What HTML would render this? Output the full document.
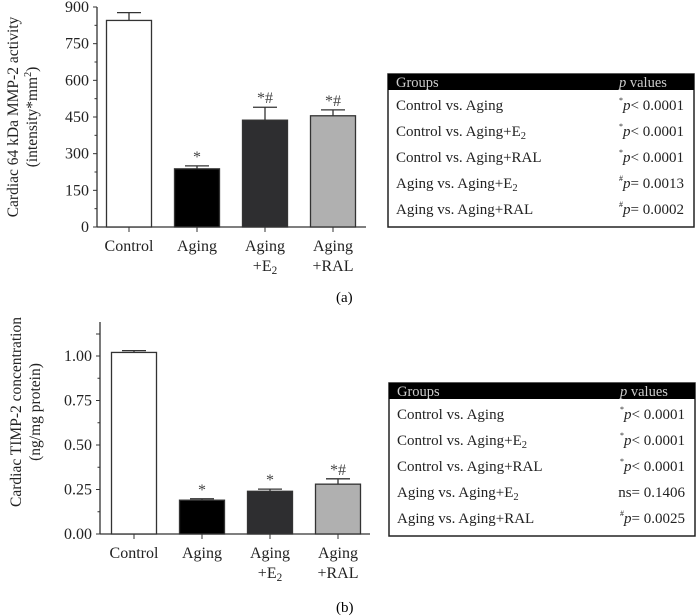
<!DOCTYPE html>
<html><head><meta charset="utf-8"><style>
body{margin:0;background:#fff;}
svg{display:block;font-family:"Liberation Serif",serif;}
</style></head><body>
<svg id="fig" width="697" height="616" viewBox="0 0 697 616" xmlns="http://www.w3.org/2000/svg">
<g id="chartA"></g>
<g id="chartB"></g>
<g id="tableA"></g>
<g id="tableB"></g>
<text x="336" y="302" font-size="15">(a)</text>
<text x="336" y="612" font-size="15">(b)</text>
</svg>
<script>
const categories=["Control","Aging","Aging +E2","Aging +RAL"];
const valuesA=[845,238,437,455];
const errorsA=[32,12,53,24];
const marksA=["","*","*#","*#"];
const ticksA=[0,150,300,450,600,750,900];
const valuesB=[1.02,0.19,0.24,0.28];
const errorsB=[0.01,0.008,0.012,0.03];
const marksB=["","*","*","*#"];
const ticksB=[0,0.25,0.5,0.75,1.0];
const fills=["#ffffff","#000000","#2e2e30","#b0b0b0"];
const rowsA=[["Control vs. Aging","*","p< 0.0001"],["Control vs. Aging+E2","*","p< 0.0001"],["Control vs. Aging+RAL","*","p< 0.0001"],["Aging vs. Aging+E2","#","p= 0.0013"],["Aging vs. Aging+RAL","#","p= 0.0002"]];
const rowsB=[["Control vs. Aging","*","p< 0.0001"],["Control vs. Aging+E2","*","p< 0.0001"],["Control vs. Aging+RAL","*","p< 0.0001"],["Aging vs. Aging+E2","","ns= 0.1406"],["Aging vs. Aging+RAL","#","p= 0.0025"]];
const NS="http://www.w3.org/2000/svg";
function mk(parent,tag,attrs,txt){const e=document.createElementNS(NS,tag);for(const k in attrs)e.setAttribute(k,attrs[k]);if(txt!==undefined)e.textContent=txt;parent.appendChild(e);return e;}
function subLabel(g,x,y,s,size,anchor){
  const t=mk(g,"text",{x:x,y:y,"font-size":size,"text-anchor":anchor||"start",fill:"#222"});
  const m=s.split("E2");
  t.appendChild(document.createTextNode(m[0]));
  if(m.length>1){t.appendChild(document.createTextNode("E"));mk(t,"tspan",{"font-size":size*0.7,dy:3},"2");mk(t,"tspan",{dy:-3},m[1]);}
  return t;
}
function drawChart(g,cfg){
  const y=v=>cfg.y0-(v/cfg.max)*cfg.h;
  const ax=mk(g,"line",{x1:cfg.ax,y1:cfg.top,x2:cfg.ax,y2:cfg.y0+0.5,stroke:"#333","stroke-width":1.3});
  
  
  const xa=mk(g,"line",{x1:cfg.ax,y1:cfg.y0,x2:cfg.right,y2:cfg.y0,stroke:"#333","stroke-width":1.3});
  
  
  cfg.ticks.forEach((v,i)=>{
    mk(g,"line",{x1:cfg.ax-4,y1:y(v),x2:cfg.ax,y2:y(v),stroke:"#333","stroke-width":1});
    if(i<cfg.ticks.length-1){const mv=(v+cfg.ticks[i+1])/2;mk(g,"line",{x1:cfg.ax-2.5,y1:y(mv),x2:cfg.ax,y2:y(mv),stroke:"#333","stroke-width":1});}
    const t=mk(g,"text",{x:cfg.ax-8,y:y(v)+5,"font-size":16,"text-anchor":"end",fill:"#222"},cfg.fmt(v));
    
    
  });
  if(cfg.extraTick){mk(g,"line",{x1:cfg.ax-4,y1:cfg.top+12,x2:cfg.ax,y2:cfg.top+12,stroke:"#333"});}
  categories.forEach((c,i)=>{
    const cx=cfg.cx0+i*cfg.step, bw=45;
    const v=cfg.values[i], e=cfg.errors[i];
    mk(g,"line",{x1:cx,y1:y(v),x2:cx,y2:y(v+e),stroke:"#333","stroke-width":1.3});
    mk(g,"line",{x1:cx-12,y1:y(v+e),x2:cx+12,y2:y(v+e),stroke:"#333","stroke-width":1.3});
    const b=mk(g,"rect",{x:cx-bw/2,y:y(v),width:bw,height:cfg.y0-y(v),fill:fills[i],stroke:"#333","stroke-width":1.3});
    
    
    mk(g,"line",{x1:cx,y1:cfg.y0,x2:cx,y2:cfg.y0+5,stroke:"#333"});
    if(cfg.marks[i]){const m=mk(g,"text",{x:cx,y:y(v+e)-4,"font-size":16,"text-anchor":"middle",fill:"#444"},cfg.marks[i]);
      
      }
    const parts=c.split(" ");
    const l1=mk(g,"text",{x:cx,y:cfg.y0+24,"font-size":16,"text-anchor":"middle",fill:"#222"},parts[0]);
    
    
    if(parts[1]) subLabel(g,cx,cfg.y0+44,parts[1],16,"middle");
  });
  const tt=mk(g,"text",{transform:`translate(${cfg.tx},${cfg.tcy}) rotate(-90)`,"font-size":15.5,"text-anchor":"middle",fill:"#222"});
  
  
  mk(tt,"tspan",{x:0,y:0},cfg.t1);
  mk(tt,"tspan",{x:0,y:19},cfg.t2);
  if(cfg.sup){mk(tt,"tspan",{"font-size":10,dy:-6},"2");mk(tt,"tspan",{dy:6},")");}
}
drawChart(document.getElementById("chartA"),{values:valuesA,errors:errorsA,marks:marksA,ticks:ticksA,max:900,y0:227,h:220,ax:97,top:7,right:366,cx0:129,step:68,fmt:v=>String(v),tx:18,tcy:117,t1:"Cardiac 64 kDa MMP-2 activity",t2:"(intensity*mm",sup:true});
drawChart(document.getElementById("chartB"),{values:valuesB,errors:errorsB,marks:marksB,ticks:ticksB,max:1,y0:534,h:178,ax:100,top:322,right:370,cx0:134,step:68,fmt:v=>v.toFixed(2),tx:21,tcy:412,t1:"Cardiac TIMP-2 concentration",t2:"(ng/mg protein)",sup:false,extraTick:true});
function drawTable(g,x,yT,rows){
  const w=306,h=153;
  mk(g,"rect",{x:x,y:yT,width:w,height:h,fill:"#fff",stroke:"#222","stroke-width":1.5});
  mk(g,"rect",{x:x,y:yT,width:w,height:16,fill:"#000"});
  mk(g,"text",{x:x+8,y:yT+13,"font-size":14.5,fill:"#ccc"},"Groups");
  const ph=mk(g,"text",{x:x+231,y:yT+13,"font-size":14.5,fill:"#ccc"});
  mk(ph,"tspan",{"font-style":"italic"},"p");mk(ph,"tspan",{},"  values");
  rows.forEach((r,i)=>{
    const yy=yT+36+i*26;
    const l=subLabel(g,x+8,yy,r[0],15,"start");
    
    
    const pv=mk(g,"text",{x:x+296,y:yy,"font-size":15,"text-anchor":"end",fill:"#222"});
    
    
    if(r[1]) mk(pv,"tspan",{"font-size":8,dy:-7},r[1]);
    const s=r[2];
    if(s[0]==="p"){mk(pv,"tspan",{"font-style":"italic",dy:r[1]?7:0},"p");mk(pv,"tspan",{},s.slice(1));}
    else mk(pv,"tspan",{},s);
  });
}
drawTable(document.getElementById("tableA"),388,74,rowsA);
drawTable(document.getElementById("tableB"),389,383,rowsB);
</script>
</body></html>
